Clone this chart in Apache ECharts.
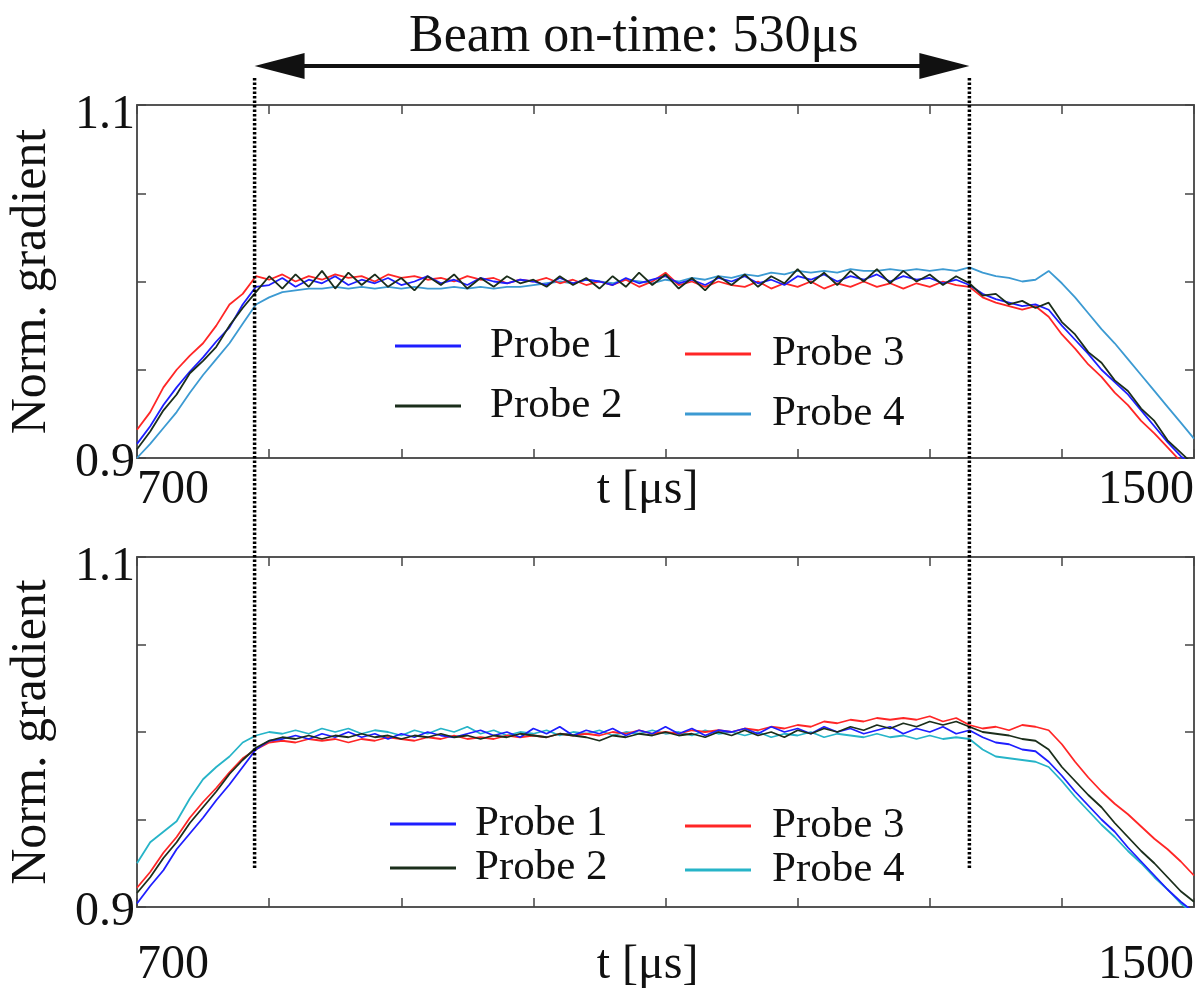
<!DOCTYPE html>
<html><head><meta charset="utf-8">
<script src="https://cdn.jsdelivr.net/npm/echarts@6/dist/echarts.min.js"></script>
<style>html,body{margin:0;padding:0;background:#fff}#c{width:1197px;height:994px}</style>
</head><body><div id="c"></div>
<script>
// ---- data ----
const times = [700,710,720,730,740,750,760,770,780,790,
  800,810,820,830,840,850,860,870,880,890,
  900,910,920,930,940,950,960,970,980,990,
  1000,1010,1020,1030,1040,1050,1060,1070,1080,1090,
  1100,1110,1120,1130,1140,1150,1160,1170,1180,1190,
  1200,1210,1220,1230,1240,1250,1260,1270,1280,1290,
  1300,1310,1320,1330,1340,1350,1360,1370,1380,1390,
  1400,1410,1420,1430,1440,1450,1460,1470,1480,1490,1500];

const probeNames = ['Probe 1','Probe 2','Probe 3','Probe 4'];
const xTickLabels = [700, 1500];
const yTickLabels = [0.9, 1.1];
const beamStart = 789, beamEnd = 1330;
const beamText = 'Beam on-time: 530μs';

// upper panel
const topProbe1 = [0.908,0.918,0.930,0.940,0.949,0.957,0.966,0.974,0.987,0.997,
  0.998,1.002,0.997,1.001,0.999,1.003,0.998,1.001,0.999,1.002,
  0.998,1.000,1.003,0.999,1.001,0.998,1.002,1.000,0.999,1.001,
  1.000,0.998,1.002,0.999,1.001,1.000,0.998,1.002,0.999,1.001,
  1.003,0.999,1.001,0.998,1.002,1.000,1.003,0.999,1.001,0.998,
  1.003,1.001,1.004,1.000,1.003,1.001,1.004,1.000,1.003,1.001,
  1.002,0.999,1.001,0.998,0.993,0.990,0.988,0.986,0.987,0.984,
  0.975,0.967,0.959,0.950,0.943,0.936,0.927,0.918,0.909,0.901,0.895];
const topProbe2 = [0.905,0.915,0.927,0.936,0.948,0.955,0.963,0.975,0.985,0.994,
  1.003,0.996,1.004,0.997,1.006,0.996,1.005,0.998,1.004,0.997,
  1.002,0.995,1.003,0.998,1.004,0.996,1.002,0.997,1.003,0.999,
  1.001,0.997,1.003,0.998,1.002,0.996,1.003,0.997,1.005,0.998,
  1.004,0.996,1.002,0.995,1.003,0.998,1.004,0.997,1.003,0.999,
  1.007,0.999,1.005,0.998,1.006,1.000,1.007,0.999,1.006,1.000,
  1.004,0.998,1.003,0.999,0.992,0.993,0.987,0.989,0.985,0.988,
  0.977,0.970,0.960,0.954,0.944,0.938,0.928,0.921,0.910,0.903,0.896];
const topProbe3 = [0.916,0.926,0.940,0.950,0.958,0.965,0.975,0.987,0.993,1.003,
  1.001,1.004,1.000,1.003,1.001,1.004,1.002,1.003,1.000,1.004,
  1.002,1.003,1.001,1.002,1.000,1.003,1.001,1.002,0.999,1.001,
  1.000,1.002,0.999,1.001,0.998,1.000,0.998,1.001,0.997,1.000,
  1.005,0.998,1.000,0.997,1.000,0.998,0.997,1.000,0.996,0.999,
  0.997,1.000,0.996,0.999,0.997,1.000,0.997,0.999,0.996,0.999,
  0.997,1.000,0.998,0.997,0.991,0.988,0.986,0.984,0.986,0.980,
  0.970,0.962,0.953,0.946,0.937,0.930,0.921,0.914,0.906,0.898,0.892];
const topProbe4 = [0.900,0.908,0.917,0.926,0.937,0.947,0.956,0.965,0.976,0.987,
  0.991,0.994,0.995,0.996,0.996,0.997,0.996,0.997,0.996,0.997,
  0.996,0.997,0.996,0.996,0.997,0.996,0.997,0.996,0.997,0.997,
  0.998,0.999,1.000,0.999,1.001,1.000,0.999,1.001,1.000,0.999,
  1.001,1.000,1.002,1.001,1.003,1.002,1.004,1.003,1.005,1.004,
  1.006,1.005,1.006,1.005,1.007,1.006,1.006,1.007,1.006,1.007,
  1.006,1.007,1.006,1.008,1.005,1.003,1.002,1.000,1.001,1.006,
  0.999,0.991,0.982,0.973,0.965,0.956,0.947,0.938,0.929,0.920,0.911];

// lower panel
const botProbe1 = [0.902,0.912,0.921,0.933,0.942,0.951,0.961,0.970,0.980,0.990,
  0.995,0.996,0.998,0.996,0.999,0.997,1.000,0.997,0.999,0.996,
  0.999,0.997,1.000,0.998,0.997,0.999,1.001,0.998,1.000,0.997,
  1.002,0.999,1.003,0.998,1.001,0.999,1.002,0.998,1.001,0.999,
  1.003,0.999,1.002,0.998,1.001,1.000,1.002,0.999,1.003,1.000,
  1.002,0.999,1.003,1.000,1.002,0.999,1.001,1.003,0.999,1.002,
  1.000,1.003,0.999,1.001,0.997,0.994,0.993,0.990,0.989,0.983,
  0.975,0.966,0.958,0.950,0.943,0.934,0.926,0.918,0.910,0.903,0.897];
const botProbe2 = [0.908,0.917,0.928,0.937,0.948,0.957,0.966,0.976,0.984,0.991,
  0.995,0.997,0.996,0.998,0.996,0.998,0.997,0.999,0.997,0.998,
  0.996,0.998,0.997,0.999,0.997,0.998,0.996,0.998,0.997,0.999,
  0.998,0.997,0.999,0.998,0.997,0.995,0.998,0.997,0.999,0.998,
  1.000,0.998,0.999,0.997,1.000,0.998,1.001,0.998,1.000,0.997,
  1.001,0.999,1.002,1.000,1.003,1.001,1.004,1.002,1.005,1.003,
  1.006,1.004,1.006,1.003,1.000,0.999,0.998,0.996,0.995,0.990,
  0.980,0.972,0.964,0.957,0.948,0.940,0.932,0.925,0.917,0.909,0.903];
const botProbe3 = [0.911,0.920,0.931,0.940,0.951,0.960,0.968,0.977,0.985,0.990,
  0.994,0.995,0.994,0.996,0.995,0.996,0.994,0.996,0.995,0.997,
  0.996,0.995,0.997,0.996,0.998,0.996,0.997,0.996,0.998,0.997,
  0.998,0.997,0.999,0.998,0.999,0.998,1.000,0.999,1.001,0.999,
  1.000,0.999,1.001,1.000,1.001,1.000,1.002,1.001,1.003,1.002,
  1.004,1.003,1.006,1.005,1.007,1.006,1.008,1.007,1.008,1.007,
  1.009,1.006,1.008,1.004,1.002,1.003,1.001,1.004,1.003,1.001,
  0.993,0.983,0.974,0.966,0.959,0.953,0.946,0.939,0.933,0.926,0.918];
const botProbe4 = [0.925,0.937,0.943,0.949,0.962,0.973,0.980,0.986,0.994,0.998,
  1.000,0.999,1.001,0.999,1.002,1.000,1.002,0.999,1.001,1.000,
  0.998,1.001,0.999,1.002,1.000,1.003,0.999,1.001,0.998,1.000,
  0.999,1.001,0.998,1.000,0.999,1.001,0.998,1.000,0.999,1.001,
  0.999,1.000,0.998,1.001,0.999,1.000,0.998,1.000,0.997,0.999,
  0.998,1.000,0.997,0.999,0.998,0.997,0.999,0.997,0.998,0.996,
  0.998,0.996,0.997,0.996,0.990,0.986,0.985,0.984,0.983,0.980,
  0.972,0.963,0.955,0.947,0.940,0.932,0.925,0.917,0.910,0.902,0.896];

// ---- styling ----
const FONT = 'Liberation Serif';
const INK = '#111';
const colorsTop = ['#1e1eff', '#1b2e1b', '#ff2626', '#3c9ad2'];
const colorsBot = ['#1e1eff', '#1b2e1b', '#ff2626', '#26b4c8'];
const topSets = [topProbe1, topProbe2, topProbe3, topProbe4];
const botSets = [botProbe1, botProbe2, botProbe3, botProbe4];

const GRID_LEFT = 137, GRID_RIGHT = 3, CHART_W = 1197;
const X_MIN = 700, X_MAX = 1500;
const HEAD_PX = 25; // half length of the arrow heads
const headUs = HEAD_PX * (X_MAX - X_MIN) / (CHART_W - GRID_LEFT - GRID_RIGHT);

function near(v, t) { return Math.abs(v - t) < 1e-7; }

function xAxes(grid, labelMargin, nameGap) {
  const line = {show: true, lineStyle: {color: '#555', width: 2}};
  const tick = {show: true, inside: true, length: 9, lineStyle: {color: '#444', width: 1.5}};
  return [
    {type: 'value', gridIndex: grid, position: 'bottom', min: X_MIN, max: X_MAX, interval: 100,
     axisLine: line, axisTick: tick, splitLine: {show: false},
     axisLabel: {margin: labelMargin, fontSize: 48, fontFamily: FONT, color: INK,
       alignMinLabel: 'left', alignMaxLabel: 'right',
       formatter: v => xTickLabels.some(t => near(v, t)) ? String(v) : ''},
     name: 't [μs]', nameLocation: 'middle', nameGap: nameGap, nameMoveOverlap: false,
     nameTextStyle: {fontSize: 48, fontFamily: FONT, color: INK, padding: [0, 36, 0, 0]}},
    {type: 'value', gridIndex: grid, position: 'top', min: X_MIN, max: X_MAX, interval: 100,
     axisLine: line, axisTick: tick, splitLine: {show: false}, axisLabel: {show: false}}
  ];
}
function yAxes(grid) {
  const line = {show: true, lineStyle: {color: '#555', width: 2}};
  const tick = {show: true, inside: true, length: 9, lineStyle: {color: '#444', width: 1.5}};
  return [
    {type: 'value', gridIndex: grid, position: 'left', min: 0.9, max: 1.1, interval: 0.05,
     axisLine: line, axisTick: tick, splitLine: {show: false},
     axisLabel: {margin: 2, fontFamily: FONT, color: INK, fontSize: 48,
       formatter: v => near(v, yTickLabels[1]) ? '{a|' + yTickLabels[1].toFixed(1) + '}' :
                       near(v, yTickLabels[0]) ? '{b|' + yTickLabels[0].toFixed(1) + '}' : '',
       rich: {a: {fontSize: 48, fontFamily: FONT, color: INK, padding: [20, 0, 0, 0]},
              b: {fontSize: 48, fontFamily: FONT, color: INK, padding: [10, 0, 0, 0]}}},
     name: 'Norm. gradient', nameLocation: 'middle', nameGap: 80, nameMoveOverlap: false,
     nameTextStyle: {fontSize: 50, fontFamily: FONT, color: INK}},
    {type: 'value', gridIndex: grid, position: 'right', min: 0.9, max: 1.1, interval: 0.05,
     axisLine: line, axisTick: tick, splitLine: {show: false}, axisLabel: {show: false}}
  ];
}

const series = [];
const drawOrder = [3, 2, 0, 1];
drawOrder.forEach(k => {
  series.push({type: 'line', name: probeNames[k], xAxisIndex: 0, yAxisIndex: 0,
    data: times.map((t, i) => [t, topSets[k][i]]), symbol: 'none', showSymbol: false,
    clip: true, silent: true, lineStyle: {width: 1.8, color: colorsTop[k]}, itemStyle: {color: colorsTop[k]}});
});
drawOrder.forEach(k => {
  series.push({type: 'line', name: probeNames[k], xAxisIndex: 2, yAxisIndex: 2,
    data: times.map((t, i) => [t, botSets[k][i]]), symbol: 'none', showSymbol: false,
    clip: true, silent: true, lineStyle: {width: 1.8, color: colorsBot[k]}, itemStyle: {color: colorsBot[k]}});
});
// annotation overlay (x in µs, y in page rows)
[beamStart, beamEnd].forEach(b => {
  series.push({type: 'line', xAxisIndex: 4, yAxisIndex: 4, silent: true, symbol: 'none', z: 10,
    data: [[b, 78], [b, 870]], lineStyle: {type: [2.5, 2], color: '#000', width: 3.5}});
});
series.push({type: 'line', xAxisIndex: 4, yAxisIndex: 4, silent: true, symbol: 'none', z: 10,
  data: [], lineStyle: {opacity: 0},
  markLine: {silent: true, animation: false, symbol: ['triangle', 'triangle'], symbolSize: [26, 2 * HEAD_PX],
    label: {show: false}, lineStyle: {type: 'solid', color: INK, width: 4},
    data: [[{coord: [beamStart + headUs, 66]}, {coord: [beamEnd - headUs, 66]}]]}});

function legend(left, top, names, gap, textPad, lh, extra) {
  return {left: left, top: top, orient: 'vertical', icon: 'rect', itemWidth: 66, itemHeight: 3,
    itemGap: gap, selectedMode: false,
    textStyle: {fontSize: 43, fontFamily: FONT, color: INK, padding: [0, 0, 0, textPad], lineHeight: lh},
    data: names.map(n => (extra && extra[n]) ? Object.assign({name: n}, extra[n]) : n)};
}

const option = {
  animation: false,
  backgroundColor: '#fff',
  title: {text: beamText, left: 404, top: 6,
    textStyle: {fontSize: 52, fontFamily: FONT, color: INK, fontWeight: 'normal'}},
  grid: [
    {left: GRID_LEFT, right: GRID_RIGHT, top: 105, height: 353, outerBoundsMode: 'none', containLabel: false},
    {left: GRID_LEFT, right: GRID_RIGHT, top: 557, height: 350, outerBoundsMode: 'none', containLabel: false},
    {left: GRID_LEFT, right: GRID_RIGHT, top: 0, bottom: 0, outerBoundsMode: 'none', containLabel: false}
  ],
  xAxis: [...xAxes(0, 8, 8), ...xAxes(1, 34, 34),
    {type: 'value', gridIndex: 2, min: X_MIN, max: X_MAX, show: false}],
  yAxis: [...yAxes(0), ...yAxes(1),
    {type: 'value', gridIndex: 2, min: 0, max: 994, inverse: true, show: false}],
  legend: [
    legend(390, 318, ['Probe 1', 'Probe 2'], 14, 24, 46),
    legend(680, 326, ['Probe 3', 'Probe 4'], 14, 16, 46, {'Probe 4': {itemStyle: {color: colorsTop[3]}}}),
    legend(385, 797, ['Probe 1', 'Probe 2'], 0, 14, 44),
    legend(680, 799, ['Probe 3', 'Probe 4'], 0, 16, 44, {'Probe 4': {itemStyle: {color: colorsBot[3]}}})
  ],
  series: series
};
const chart = echarts.init(document.getElementById('c'), null, {renderer: 'canvas'});
chart.setOption(option);
</script>
</body></html>
